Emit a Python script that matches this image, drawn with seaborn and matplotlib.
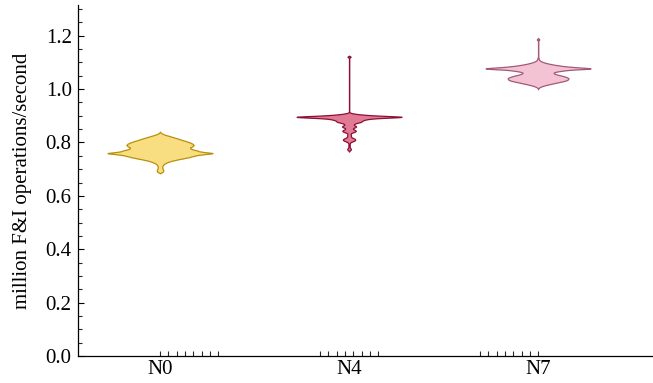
import numpy as np
import pandas as pd
import matplotlib
matplotlib.use("Agg")
import matplotlib.pyplot as plt
from matplotlib.ticker import MultipleLocator, FixedLocator
import seaborn as sns

# ---------------- data ----------------
categories = ["N0", "N4", "N7"]

n0_values = [0.690, 0.695, 0.700, 0.705, 0.710, 0.715, 0.720, 0.725, 0.730, 0.735,
             0.740, 0.745, 0.750, 0.755, 0.760, 0.765, 0.770, 0.775, 0.780, 0.785,
             0.790, 0.795, 0.800, 0.805, 0.810, 0.815, 0.820, 0.825, 0.830, 0.835]
n0_counts = [5, 6, 5, 4, 4, 5, 7, 12, 18, 28,
             40, 52, 60, 72, 100, 72, 66, 56, 52, 57,
             60, 58, 53, 46, 38, 31, 23, 15, 7, 2]

n4_values = [0.770, 0.773, 0.776, 0.779, 0.782, 0.785, 0.788, 0.791, 0.794, 0.797,
             0.800, 0.803, 0.806, 0.809, 0.812, 0.815, 0.818, 0.821, 0.824, 0.827,
             0.830, 0.833, 0.836, 0.839, 0.842, 0.845, 0.848, 0.851, 0.854, 0.857,
             0.860, 0.863, 0.866, 0.869, 0.872, 0.875, 0.878, 0.881, 0.884, 0.887,
             0.890, 0.893, 0.896, 0.899, 0.902, 0.905, 0.908, 0.911, 1.121]
n4_counts = [1, 3, 3, 2, 1, 1, 1, 1, 1, 1,
             2, 4, 8, 10, 10, 8, 5, 3, 3, 3,
             3, 2, 4, 8, 11, 11, 8, 6, 6, 10,
             12, 10, 7, 8, 10, 16, 21, 20, 24, 28,
             38, 62, 100, 60, 35, 18, 8, 2, 4]

n7_values = [1.005, 1.009, 1.013, 1.017, 1.021, 1.025, 1.029, 1.033, 1.037, 1.041,
             1.045, 1.049, 1.053, 1.057, 1.061, 1.065, 1.069, 1.073, 1.077, 1.081,
             1.085, 1.089, 1.093, 1.097, 1.101, 1.105, 1.109, 1.113, 1.117, 1.186]
n7_counts = [1, 4, 9, 16, 24, 32, 40, 47, 49, 50,
             46, 41, 33, 27, 24, 28, 40, 52, 100, 65,
             45, 32, 22, 14, 8, 4, 2, 1, 1, 3]

# ---------------- styles ----------------
bandwidths = {"N0": 0.0027, "N4": 0.002, "N7": 0.0025}
fills = {"N0": "#F8DE80", "N4": "#E07A95", "N7": "#F3C3D3"}
edges = {"N0": "#B8900A", "N4": "#8C1033", "N7": "#A4587A"}

frames = []
for cat, vals, cnts in [("N0", n0_values, n0_counts),
                        ("N4", n4_values, n4_counts),
                        ("N7", n7_values, n7_counts)]:
    frames.append(pd.DataFrame({"group": cat,
                                "value": np.repeat(np.asarray(vals), np.asarray(cnts))}))
df = pd.concat(frames, ignore_index=True)

sns.set_style("ticks")
plt.rcParams["font.family"] = ["Liberation Serif", "DejaVu Serif"]
plt.rcParams["mathtext.fontset"] = "stix"

fig = plt.figure(figsize=(6.53, 3.83), dpi=100)
ax = fig.add_axes([78 / 653, 1 - 356 / 383, 1 - 78 / 653, (356 - 5) / 383])


def make_bw(s):
    return lambda kde: s / np.std(kde.dataset, ddof=1)


for cat in categories:
    sub = df[df["group"] == cat]
    sns.violinplot(data=sub, x="group", y="value", order=categories, ax=ax,
                   color=fills[cat], linecolor=edges[cat], linewidth=0.9,
                   saturation=1, inner=None, density_norm="width", width=0.555,
                   cut=2, gridsize=2500, bw_method=make_bw(bandwidths[cat]))

ax.set_xlim(-0.434, 2.608)
ax.set_ylim(0, 1.315)
ax.yaxis.set_major_locator(MultipleLocator(0.2))
ax.yaxis.set_minor_locator(MultipleLocator(0.05))
ax.set_yticklabels([f"{v:.1f}" for v in ax.get_yticks()])

group_start = np.arange(3) * 0.84656
minor_x = (group_start[:, None] + np.arange(8) * 0.04409).ravel()
ax.xaxis.remove_overlapping_locs = False
ax.xaxis.set_minor_locator(FixedLocator(minor_x))

ax.tick_params(axis="y", which="major", direction="in", length=4.5, width=0.8,
               pad=4.5, labelsize=15, colors="black")
ax.tick_params(axis="y", which="minor", direction="in", length=2.6, width=0.8)
ax.tick_params(axis="x", which="major", length=0, pad=3, labelsize=15, colors="black")
ax.tick_params(axis="x", which="minor", direction="in", length=3.6, width=0.8)

for side in ["top", "right"]:
    ax.spines[side].set_visible(False)
for side in ["left", "bottom"]:
    ax.spines[side].set_linewidth(0.9)
    ax.spines[side].set_color("black")

ax.set_xlabel("")
ax.set_ylabel("million F&I operations/second", fontsize=15, color="black")
ax.yaxis.set_label_coords(-0.080, 0.5)

fig.savefig("out.png", dpi=100)
